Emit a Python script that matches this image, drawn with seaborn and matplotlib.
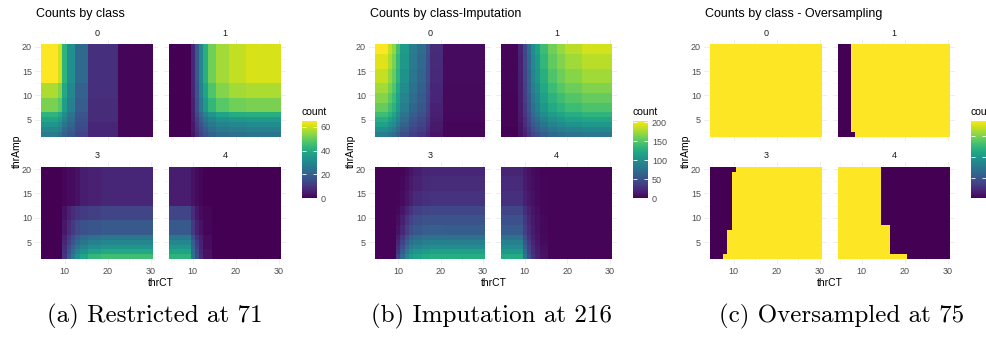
import numpy as np
import pandas as pd
import matplotlib
matplotlib.use("Agg")
import matplotlib.pyplot as plt
import seaborn as sns

# grid of thresholds
CT = list(range(5, 31))
AMP = list(range(2, 21))

# each facet: start of column blocks (thrCT), start of row blocks (thrAmp),
# block values listed from low thrAmp to high thrAmp

# (a) restricted
a0_ct = [5, 9, 10, 11, 13, 16, 23]
a0_amp = [2, 3, 4, 5, 6, 7, 10, 13]
a0_vals = [[27, 25, 20, 17, 13, 7, 1],
           [30, 28, 22, 19, 14, 7, 1],
           [34, 31, 25, 21, 15, 7, 1],
           [38, 35, 28, 23, 16, 8, 1],
           [42, 39, 31, 25, 17, 8, 1],
           [52, 48, 36, 28, 19, 8, 1],
           [57, 53, 39, 30, 20, 9, 1],
           [65, 60, 42, 32, 22, 9, 1]]

a1_ct = [5, 10, 11, 12, 13, 14, 16, 19, 23]
a1_amp = [2, 3, 4, 5, 6, 7, 10, 13]
a1_vals = [[0, 3, 8, 13, 17, 20, 23, 24, 25],
           [0, 4, 10, 15, 19, 23, 26, 27, 28],
           [0, 4, 11, 17, 22, 26, 29, 30, 31],
           [0, 5, 12, 19, 25, 29, 32, 34, 35],
           [0, 5, 14, 22, 29, 34, 38, 40, 41],
           [0, 6, 16, 26, 35, 43, 48, 51, 52],
           [0, 7, 17, 28, 38, 47, 53, 56, 57],
           [0, 7, 18, 30, 41, 51, 56, 59, 61]]

a3_ct = [5, 10, 11, 12, 13, 14, 16, 19]
a3_amp = [2, 3, 4, 5, 6, 7, 10, 13]
a3_vals = [[0, 10, 18, 26, 33, 38, 43, 45],
           [0, 9, 16, 23, 29, 33, 37, 39],
           [0, 8, 14, 20, 25, 29, 32, 34],
           [0, 7, 12, 17, 22, 25, 28, 30],
           [0, 6, 11, 15, 19, 22, 24, 26],
           [0, 4, 8, 11, 14, 16, 17, 18],
           [0, 3, 6, 8, 10, 11, 12, 13],
           [0, 1, 2, 2, 3, 5, 6, 7]]

a4_ct = [5, 10, 11, 12, 13, 15]
a4_amp = [2, 3, 4, 5, 6, 7, 10, 13]
a4_vals = [[42, 25, 15, 8, 3, 0],
           [38, 23, 14, 7, 3, 0],
           [34, 21, 12, 6, 2, 0],
           [30, 19, 11, 6, 2, 0],
           [26, 16, 9, 5, 2, 0],
           [18, 11, 6, 3, 1, 0],
           [13, 8, 4, 2, 1, 0],
           [5, 3, 2, 1, 0, 0]]

# (b) imputation
b_amp = [2, 3, 4, 5, 6, 7, 9, 11, 13, 16, 19]

b0_ct = [5, 8, 9, 10, 11, 13, 15, 17, 18, 21]
b0_vals = [[87, 80, 73, 61, 48, 37, 31, 22, 11, 3],
           [101, 93, 85, 72, 56, 43, 36, 26, 13, 3],
           [115, 105, 97, 82, 64, 49, 40, 29, 14, 3],
           [127, 117, 107, 90, 71, 54, 45, 32, 16, 4],
           [141, 130, 119, 100, 78, 60, 50, 36, 18, 4],
           [156, 142, 131, 110, 86, 66, 55, 39, 19, 5],
           [166, 152, 139, 117, 92, 71, 58, 42, 21, 5],
           [176, 161, 148, 124, 97, 75, 62, 44, 22, 5],
           [186, 170, 156, 132, 103, 79, 65, 47, 23, 6],
           [194, 178, 163, 137, 108, 83, 68, 49, 24, 6],
           [204, 185, 170, 143, 112, 86, 71, 51, 25, 6]]

b1_ct = [5, 9, 10, 11, 12, 13, 14, 16, 18, 20, 24]
b1_vals = [[1, 9, 19, 30, 43, 49, 60, 69, 74, 78, 82],
           [1, 10, 22, 35, 50, 58, 70, 80, 86, 91, 95],
           [2, 11, 26, 40, 57, 66, 80, 91, 98, 104, 108],
           [2, 13, 28, 44, 63, 72, 88, 101, 108, 115, 120],
           [2, 14, 32, 49, 70, 81, 98, 112, 120, 127, 133],
           [2, 15, 35, 54, 77, 89, 108, 123, 132, 140, 146],
           [2, 16, 37, 57, 82, 94, 115, 131, 141, 149, 156],
           [3, 17, 39, 61, 87, 100, 122, 139, 150, 158, 165],
           [3, 18, 41, 64, 92, 106, 129, 147, 158, 167, 175],
           [3, 19, 43, 67, 96, 110, 134, 154, 165, 175, 182],
           [3, 20, 45, 70, 100, 115, 140, 160, 172, 182, 190]]

b3_ct = [5, 10, 11, 12, 13, 14, 16, 18, 21]
b3_vals = [[2, 40, 70, 95, 110, 118, 124, 127, 126],
           [2, 30, 58, 82, 98, 106, 112, 115, 115],
           [2, 25, 48, 70, 85, 93, 98, 101, 100],
           [2, 20, 40, 60, 74, 82, 87, 89, 88],
           [2, 16, 32, 50, 63, 70, 75, 77, 76],
           [2, 10, 22, 36, 48, 55, 59, 61, 60],
           [2, 7, 17, 29, 40, 47, 51, 52, 52],
           [2, 4, 11, 20, 30, 37, 41, 43, 43],
           [2, 3, 6, 11, 18, 24, 28, 30, 30],
           [2, 2, 4, 8, 14, 19, 23, 25, 25],
           [2, 2, 3, 6, 11, 16, 20, 22, 22]]

b4_ct = [5, 10, 11, 12, 13, 14, 16]
b4_vals = [[125, 80, 50, 30, 18, 9, 2],
           [110, 70, 44, 27, 16, 8, 2],
           [98, 62, 39, 24, 14, 7, 2],
           [88, 55, 35, 21, 12, 6, 2],
           [75, 47, 30, 18, 11, 5, 2],
           [58, 37, 24, 15, 9, 4, 2],
           [50, 32, 21, 13, 8, 4, 2],
           [42, 27, 18, 11, 7, 3, 2],
           [28, 18, 12, 8, 5, 3, 2],
           [24, 15, 10, 7, 4, 3, 2],
           [20, 13, 9, 6, 4, 2, 2]]

# (c) oversampling
c0_ct = [5]
c0_amp = [2]
c0_vals = [[75]]

c1_ct = [5, 8, 9]
c1_amp = [2, 3]
c1_vals = [[0, 0, 75],
           [0, 75, 75]]

c3_ct = [5, 8, 9, 10, 11]
c3_amp = [2, 3, 8, 20]
c3_vals = [[0, 75, 75, 75, 75],
           [0, 0, 75, 75, 75],
           [0, 0, 0, 75, 75],
           [0, 0, 0, 0, 75]]

c4_ct = [5, 15, 17, 21]
c4_amp = [2, 3, 9]
c4_vals = [[75, 75, 75, 0],
           [75, 75, 0, 0],
           [75, 0, 0, 0]]

classes = ["0", "1", "3", "4"]


def expand(ct_starts, amp_starts, vals):
    ci = np.searchsorted(ct_starts, CT, side="right") - 1
    ai = np.searchsorted(amp_starts, AMP, side="right") - 1
    grid = np.array(vals)[np.ix_(ai, ci)]
    return pd.DataFrame(grid, index=AMP, columns=CT).iloc[::-1]


panels = [
    dict(title="Counts by class", caption="(a) Restricted at 71",
         facets=[(a0_ct, a0_amp, a0_vals), (a1_ct, a1_amp, a1_vals),
                 (a3_ct, a3_amp, a3_vals), (a4_ct, a4_amp, a4_vals)],
         x0=41, tw=111.8, cbx=301.7, cap_x=155, ticks=[0, 20, 40, 60], labels=True),
    dict(title="Counts by class-Imputation", caption="(b) Imputation at 216",
         facets=[(b0_ct, b_amp, b0_vals), (b1_ct, b_amp, b1_vals),
                 (b3_ct, b_amp, b3_vals), (b4_ct, b_amp, b4_vals)],
         x0=375, tw=110.2, cbx=632.7, cap_x=492, ticks=[0, 50, 100, 150, 200], labels=True),
    # the right edge of the figure cuts this legend, its tick labels fall outside
    dict(title="Counts by class - Oversampling", caption="(c) Oversampled at 75",
         facets=[(c0_ct, c0_amp, c0_vals), (c1_ct, c1_amp, c1_vals),
                 (c3_ct, c3_amp, c3_vals), (c4_ct, c4_amp, c4_vals)],
         x0=710, tw=111.8, cbx=970.7, cap_x=842, ticks=[0, 20, 40, 60], labels=False),
]

W, H = 987, 339
plt.rcParams["font.family"] = ["Liberation Sans", "DejaVu Sans"]
fig = plt.figure(figsize=(W / 100, H / 100), dpi=100)


def box(x, y, w, h):
    return [x / W, 1 - (y + h) / H, w / W, h / H]


row_tops = [44.3, 166.7]
th = 92.4
gap = 16.3
grey = "#4d4d4d"

for p in panels:
    frames = [expand(*f) for f in p["facets"]]
    vmax = max(df.values.max() for df in frames)
    mesh = None
    for k, df in enumerate(frames):
        r, c = divmod(k, 2)
        tx = p["x0"] + c * (p["tw"] + gap)
        ty = row_tops[r]
        ex, ey = p["tw"] * 0.05, th * 0.05
        ax = fig.add_axes(box(tx - ex, ty - ey, p["tw"] + 2 * ex, th + 2 * ey))
        sns.heatmap(df, ax=ax, cmap="viridis", vmin=0, vmax=vmax, cbar=False,
                    xticklabels=False, yticklabels=False, linewidths=0)
        mesh = ax.collections[0]
        nx, ny = len(CT), len(AMP)
        ax.set_xlim(-0.05 * nx, nx * 1.05)
        ax.set_ylim(ny * 1.05, -0.05 * ny)
        xmaj = [CT.index(v) + 0.5 for v in (10, 20, 30)]
        xmin = [CT.index(v) + 0.5 for v in (5, 15, 25)]
        ymaj = [AMP[-1] + 0.5 - v for v in (5, 10, 15, 20)]
        ymin = [AMP[-1] + 0.5 - v for v in (2.5, 7.5, 12.5, 17.5)]
        ax.set_xticks(xmaj)
        ax.set_xticks(xmin, minor=True)
        ax.set_yticks(ymaj)
        ax.set_yticks(ymin, minor=True)
        ax.set_xticklabels(["10", "20", "30"] if r == 1 else [])
        ax.set_yticklabels(["5", "10", "15", "20"] if c == 0 else [])
        ax.tick_params(which="both", length=0, labelsize=6.5, labelcolor=grey, pad=2.5)
        ax.set_xlabel("")
        ax.set_ylabel("")
        ax.grid(True, which="major", color="#ebebeb", lw=0.6)
        ax.grid(True, which="minor", color="#f2f2f2", lw=0.4)
        ax.set_axisbelow(True)
        for s in ax.spines.values():
            s.set_visible(False)
        ax.text(0.5, 1.063, classes[k], transform=ax.transAxes, ha="center",
                va="center", fontsize=6.5, color="#1a1a1a")

    fig.text((p["x0"] - 5) / W, 1 - 14 / H, p["title"], fontsize=9, va="center")
    mid = p["x0"] + p["tw"] + gap / 2
    fig.text(mid / W, 1 - 283 / H, "thrCT", fontsize=7.5, ha="center", va="center")
    fig.text((p["x0"] - 24) / W, 1 - 151.6 / H, "thrAmp", fontsize=7.5,
             rotation=90, ha="center", va="center")

    cax = fig.add_axes(box(p["cbx"], 120.7, 15, 77.6))
    cb = fig.colorbar(mesh, cax=cax, ticks=p["ticks"])
    cb.outline.set_visible(False)
    cax.tick_params(axis="y", direction="in", length=3, width=0.6, color="white",
                    left=True, right=True, labelsize=6.5, labelcolor=grey, pad=3,
                    labelright=p["labels"])
    fig.text(p["cbx"] / W, 1 - 111.7 / H, "count", fontsize=7.5, va="center")

    fig.text(p["cap_x"] / W, 1 - 316 / H, p["caption"], fontsize=18,
             family="cmr10", ha="center", va="center")

fig.savefig("out.png", dpi=100)
